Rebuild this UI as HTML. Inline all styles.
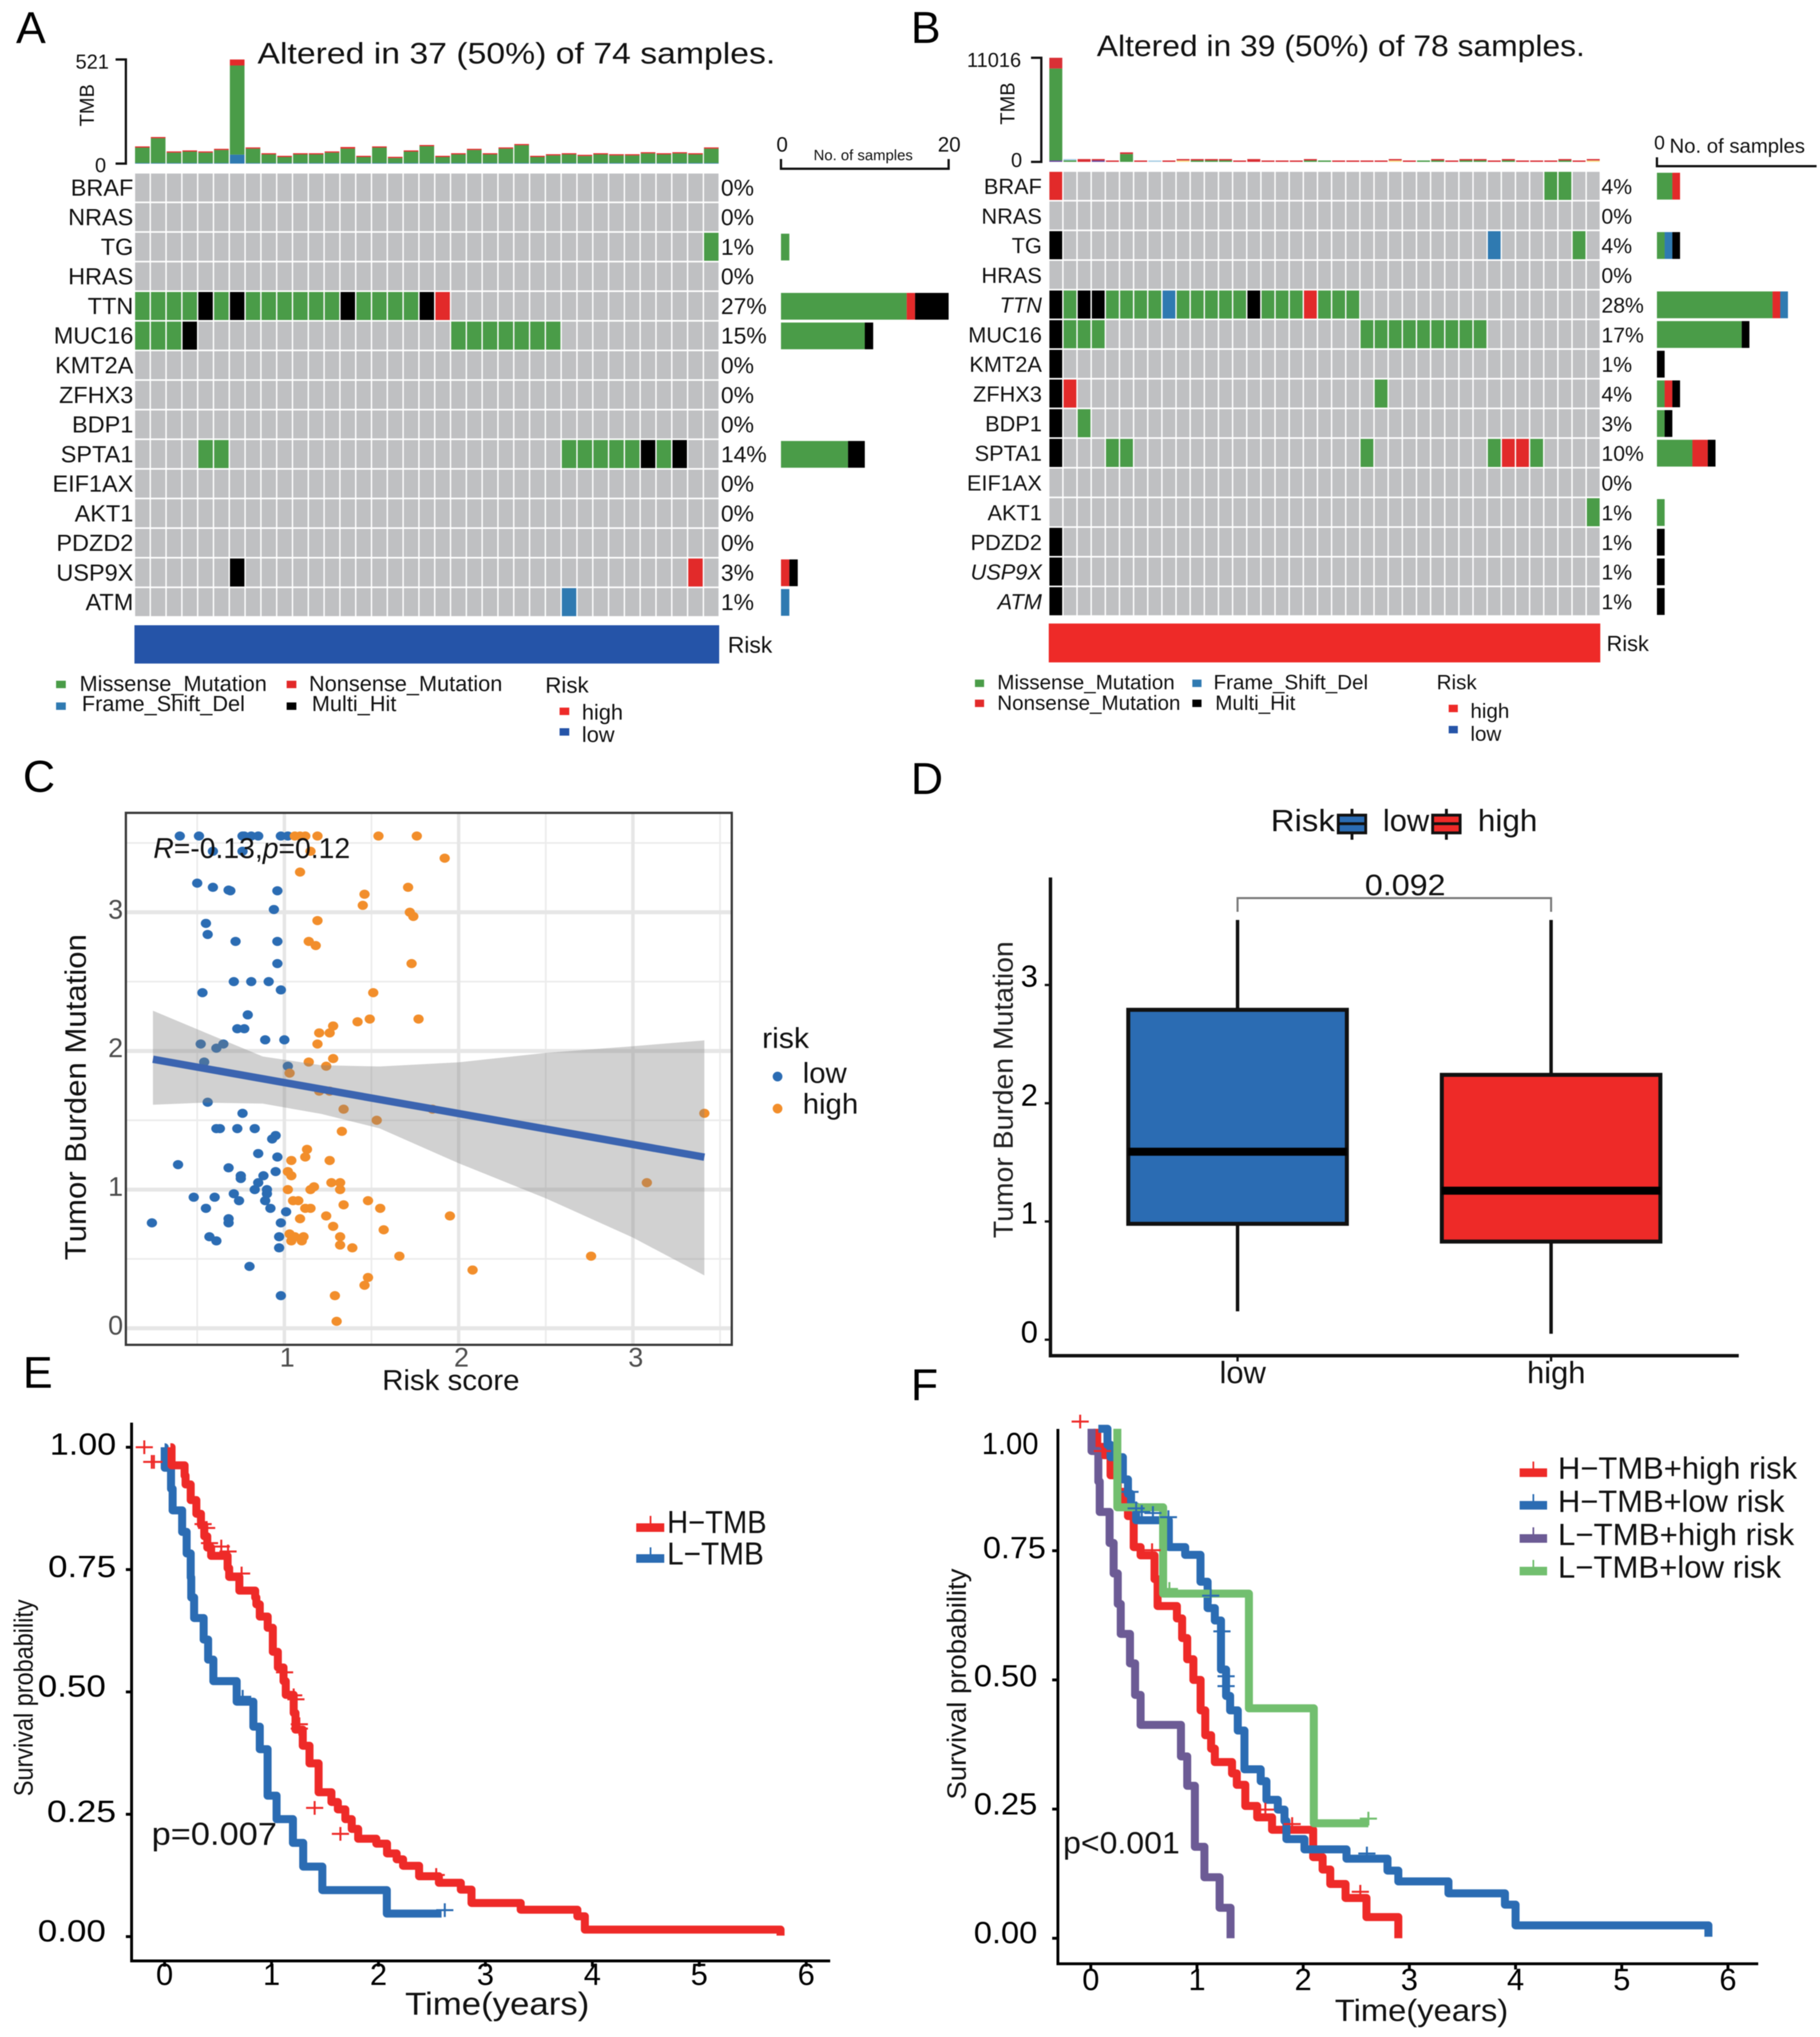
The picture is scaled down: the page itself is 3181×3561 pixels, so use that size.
<!DOCTYPE html>
<html lang="en">
<head>
<meta charset="utf-8">
<title>Oncoplots, TMB correlation and survival panels</title>
<style>
html,body{margin:0;padding:0;background:#fff;}
svg{display:block;filter:blur(0.8px);}
text{font-family:"Liberation Sans",Arial,sans-serif;fill:#111;}
.ital{font-style:italic;}
.letter{font-size:78px;fill:#000;}
.leg{font-size:38px;}
.legb{font-size:36px;}
.tick{font-size:54px;fill:#000;}
.tc{font-size:47px;fill:#4d4d4d;}
</style>
</head>
<body>
<svg id="fig" xmlns="http://www.w3.org/2000/svg" width="3181" height="3561" viewBox="0 0 3181 3561">
<rect x="0" y="0" width="3181" height="3561" fill="#fff"/>

<!-- panel letters -->
<text class="letter" x="28" y="75">A</text>
<text class="letter" x="1592" y="75">B</text>
<text class="letter" x="40" y="1384">C</text>
<text class="letter" x="1592" y="1388">D</text>
<text class="letter" x="40" y="2426">E</text>
<text class="letter" x="1592" y="2448">F</text>

<!-- panel A static text -->
<text x="450" y="111" font-size="52" textLength="905" lengthAdjust="spacingAndGlyphs">Altered in 37 (50%) of 74 samples.</text>
<text x="132" y="120" font-size="35">521</text>
<text x="166" y="301" font-size="35">0</text>
<text transform="translate(164,184) rotate(-90)" text-anchor="middle" font-size="35">TMB</text>
<text x="1357" y="265" font-size="36">0</text>
<text x="1639" y="265" font-size="36">20</text>
<text x="1422" y="280" font-size="26">No. of samples</text>
<text x="1272" y="1141" font-size="40">Risk</text>
<rect x="98" y="1190" width="17" height="13" fill="#4a9c48"/>
<text class="leg" x="139" y="1208">Missense_Mutation</text>
<rect x="98" y="1228" width="17" height="13" fill="#2f7ab1"/>
<text class="leg" x="143" y="1243">Frame_Shift_Del</text>
<rect x="501" y="1190" width="17" height="13" fill="#e22a2a"/>
<text class="leg" x="540" y="1208">Nonsense_Mutation</text>
<rect x="501" y="1228" width="17" height="13" fill="#000"/>
<text class="leg" x="545" y="1243">Multi_Hit</text>
<text x="953" y="1211" font-size="39">Risk</text>
<rect x="978" y="1237" width="17" height="13" fill="#ee2a28"/>
<text class="leg" x="1017" y="1258">high</text>
<rect x="978" y="1273" width="17" height="13" fill="#2554a8"/>
<text class="leg" x="1017" y="1297">low</text>

<!-- panel B static text -->
<text x="1917" y="98" font-size="52" textLength="853" lengthAdjust="spacingAndGlyphs">Altered in 39 (50%) of 78 samples.</text>
<text x="1690" y="117" font-size="35">11016</text>
<text x="1767" y="292" font-size="35">0</text>
<text transform="translate(1773,181) rotate(-90)" text-anchor="middle" font-size="35">TMB</text>
<text x="2891" y="261" font-size="34">0</text>
<text x="2918" y="267" font-size="35.5">No. of samples</text>
<text x="2808" y="1138" font-size="38">Risk</text>
<rect x="1704" y="1188" width="16" height="13" fill="#4a9c48"/>
<text class="legb" x="1743" y="1205">Missense_Mutation</text>
<rect x="1704" y="1223" width="16" height="13" fill="#e22a2a"/>
<text class="legb" x="1743" y="1241">Nonsense_Mutation</text>
<rect x="2084" y="1188" width="16" height="13" fill="#2f7ab1"/>
<text class="legb" x="2121" y="1205">Frame_Shift_Del</text>
<rect x="2084" y="1223" width="16" height="13" fill="#000"/>
<text class="legb" x="2124" y="1241">Multi_Hit</text>
<text x="2511" y="1205" font-size="36">Risk</text>
<rect x="2532" y="1232" width="16" height="13" fill="#ee2a28"/>
<text x="2570" y="1255" font-size="36">high</text>
<rect x="2532" y="1269" width="16" height="13" fill="#2554a8"/>
<text x="2570" y="1295" font-size="36">low</text>

<!-- panel C static text -->
<text transform="translate(150,1918) rotate(-90)" text-anchor="middle" font-size="52" textLength="570" lengthAdjust="spacingAndGlyphs">Tumor Burden Mutation</text>
<text x="668" y="2430" font-size="50" textLength="240" lengthAdjust="spacingAndGlyphs">Risk score</text>
<text x="1332" y="1832" font-size="50" textLength="82" lengthAdjust="spacingAndGlyphs">risk</text>
<text x="1403" y="1893" font-size="50" textLength="77" lengthAdjust="spacingAndGlyphs">low</text>
<text x="1403" y="1947" font-size="50" textLength="97" lengthAdjust="spacingAndGlyphs">high</text>
<circle cx="1359" cy="1882" r="8.5" fill="#2b6cb3"/>
<circle cx="1359" cy="1938" r="8.5" fill="#f28e2b"/>

<!-- panel D static text -->
<text transform="translate(1770,1905) rotate(-90)" text-anchor="middle" font-size="48" textLength="519" lengthAdjust="spacingAndGlyphs" style="fill:#222">Tumor Burden Mutation</text>
<text x="2456" y="1565" text-anchor="middle" font-size="52" textLength="141" lengthAdjust="spacingAndGlyphs">0.092</text>
<text x="2172" y="2418" text-anchor="middle" font-size="54">low</text>
<text x="2720" y="2418" text-anchor="middle" font-size="54">high</text>
<text x="2221" y="1453" font-size="54" textLength="112" lengthAdjust="spacingAndGlyphs">Risk</text>
<line x1="2363" x2="2363" y1="1414" y2="1468" stroke="#111" stroke-width="5"/>
<rect x="2339" y="1425" width="48" height="31" fill="#2b6cb3" stroke="#111" stroke-width="5"/>
<line x1="2339" x2="2387" y1="1440" y2="1440" stroke="#111" stroke-width="5"/>
<text x="2417" y="1453" font-size="54" textLength="81" lengthAdjust="spacingAndGlyphs">low</text>
<line x1="2528" x2="2528" y1="1414" y2="1468" stroke="#111" stroke-width="5"/>
<rect x="2504" y="1425" width="48" height="31" fill="#ee2a28" stroke="#111" stroke-width="5"/>
<line x1="2504" x2="2552" y1="1440" y2="1440" stroke="#111" stroke-width="5"/>
<text x="2583" y="1453" font-size="54" textLength="104" lengthAdjust="spacingAndGlyphs">high</text>
<text class="tick" x="1784" y="1725">3</text>
<text class="tick" x="1784" y="1933">2</text>
<text class="tick" x="1784" y="2139">1</text>
<text class="tick" x="1784" y="2347">0</text>

<!-- panel E static text -->
<text transform="translate(57,2968) rotate(-90)" text-anchor="middle" font-size="46" textLength="344" lengthAdjust="spacingAndGlyphs">Survival probability</text>
<text x="708" y="3522" font-size="56" textLength="322" lengthAdjust="spacingAndGlyphs">Time(years)</text>
<text x="265" y="3225" font-size="56" textLength="219" lengthAdjust="spacingAndGlyphs">p=0.007</text>
<text class="tick" x="87" y="2543" textLength="116" lengthAdjust="spacingAndGlyphs">1.00</text>
<text class="tick" x="84" y="2757" textLength="119" lengthAdjust="spacingAndGlyphs">0.75</text>
<text class="tick" x="66" y="2966" textLength="119" lengthAdjust="spacingAndGlyphs">0.50</text>
<text class="tick" x="82" y="3185" textLength="121" lengthAdjust="spacingAndGlyphs">0.25</text>
<text class="tick" x="66" y="3394" textLength="119" lengthAdjust="spacingAndGlyphs">0.00</text>
<rect x="1112" y="2663" width="49" height="15" fill="#ee2a28"/>
<line x1="1137" x2="1137" y1="2650" y2="2665" stroke="#ee2a28" stroke-width="3"/>
<text x="1166" y="2680" font-size="56" textLength="174" lengthAdjust="spacingAndGlyphs">H−TMB</text>
<rect x="1112" y="2717" width="49" height="15" fill="#2b6cb3"/>
<line x1="1137" x2="1137" y1="2705" y2="2720" stroke="#2b6cb3" stroke-width="3"/>
<text x="1166" y="2735" font-size="56" textLength="169" lengthAdjust="spacingAndGlyphs">L−TMB</text>

<!-- panel F static text -->
<text transform="translate(1688,2944) rotate(-90)" text-anchor="middle" font-size="46" textLength="404" lengthAdjust="spacingAndGlyphs">Survival probability</text>
<text x="2333" y="3533" font-size="54" textLength="303" lengthAdjust="spacingAndGlyphs">Time(years)</text>
<text x="1858" y="3240" font-size="54" textLength="204" lengthAdjust="spacingAndGlyphs">p&lt;0.001</text>
<text class="tick" x="1716" y="2542" textLength="99" lengthAdjust="spacingAndGlyphs">1.00</text>
<text class="tick" x="1718" y="2724" textLength="110" lengthAdjust="spacingAndGlyphs">0.75</text>
<text class="tick" x="1702" y="2948" textLength="111" lengthAdjust="spacingAndGlyphs">0.50</text>
<text class="tick" x="1702" y="3172" textLength="111" lengthAdjust="spacingAndGlyphs">0.25</text>
<text class="tick" x="1702" y="3397" textLength="111" lengthAdjust="spacingAndGlyphs">0.00</text>
<rect x="2656" y="2567" width="48" height="15" fill="#ee2a28"/>
<line x1="2680" x2="2680" y1="2555" y2="2570" stroke="#ee2a28" stroke-width="3"/>
<text x="2723" y="2585" font-size="54" textLength="418" lengthAdjust="spacingAndGlyphs">H−TMB+high risk</text>
<rect x="2656" y="2624" width="48" height="15" fill="#2b6cb3"/>
<line x1="2680" x2="2680" y1="2612" y2="2627" stroke="#2b6cb3" stroke-width="3"/>
<text x="2723" y="2643" font-size="54" textLength="396" lengthAdjust="spacingAndGlyphs">H−TMB+low risk</text>
<rect x="2656" y="2682" width="48" height="15" fill="#6c5b95"/>
<line x1="2680" x2="2680" y1="2670" y2="2685" stroke="#6c5b95" stroke-width="3"/>
<text x="2723" y="2701" font-size="54" textLength="413" lengthAdjust="spacingAndGlyphs">L−TMB+high risk</text>
<rect x="2656" y="2739" width="48" height="15" fill="#72bf6f"/>
<line x1="2680" x2="2680" y1="2727" y2="2742" stroke="#72bf6f" stroke-width="3"/>
<text x="2723" y="2758" font-size="54" textLength="390" lengthAdjust="spacingAndGlyphs">L−TMB+low risk</text>
</svg>

<script>
/* ---------- oncoplot data ---------- */
const genes = ['BRAF','NRAS','TG','HRAS','TTN','MUC16','KMT2A','ZFHX3','BDP1','SPTA1','EIF1AX','AKT1','PDZD2','USP9X','ATM'];
const pctA = [0,0,1,0,27,15,0,0,0,14,0,0,0,3,1];
const pctB = [4,0,4,0,28,17,1,4,3,10,0,1,1,1,1];
const italicB = ['TTN','USP9X','ATM'];

const missenseA = {TG:[36],TTN:[0,1,2,3,5,7,8,9,10,11,12,14,15,16,17],MUC16:[0,1,2,20,21,22,23,24,25,26],SPTA1:[4,5,27,28,29,30,31,33]};
const nonsenseA = {TTN:[19],USP9X:[35]};
const frameShiftA = {ATM:[27]};
const multiHitA = {TTN:[4,6,13,18],MUC16:[3],SPTA1:[32,34],USP9X:[6]};

const missenseB = {BRAF:[35,36],TG:[37],TTN:[1,4,5,6,7,9,10,11,12,13,15,16,17,19,20,21],MUC16:[1,2,3,22,23,24,25,26,27,28,29,30],ZFHX3:[23],BDP1:[2],SPTA1:[4,5,22,31,34],AKT1:[38]};
const nonsenseB = {BRAF:[0],TTN:[18],ZFHX3:[1],SPTA1:[32,33]};
const frameShiftB = {TG:[31],TTN:[8]};
const multiHitB = {TG:[0],TTN:[0,2,3,14],MUC16:[0],KMT2A:[0],ZFHX3:[0],BDP1:[0],SPTA1:[0],PDZD2:[0],USP9X:[0],ATM:[0]};

const sideMissenseA = [0,0,1,0,15,10,0,0,0,8,0,0,0,0,0];
const sideNonsenseA = [0,0,0,0,1,0,0,0,0,0,0,0,0,1,0];
const sideFrameShiftA = [0,0,0,0,0,0,0,0,0,0,0,0,0,0,1];
const sideMultiHitA = [0,0,0,0,4,1,0,0,0,2,0,0,0,1,0];

const sideMissenseB = [2,0,1,0,15,11,0,1,1,4.6,0,1,0,0,0];
const sideNonsenseB = [1,0,0,0,1,0,0,1,0,2,0,0,0,0,0];
const sideFrameShiftB = [0,0,1,0,1,0,0,0,0,0,0,0,0,0,0];
const sideMultiHitB = [0,0,1,0,0,1,1,1,1,1,0,0,1,1,1];

const tmbMissenseA = [77,124,52,57,52,65,446,72,43,30,43,43,52,72,30,77,25,57,84,30,43,65,43,72,89,30,38,43,35,43,38,38,48,43,48,43,72];
const tmbNonsenseA = [6,6,6,6,6,6,30,6,6,6,6,6,6,8,6,6,6,6,6,6,6,6,6,6,6,6,6,6,6,6,6,6,6,6,6,6,6];
const tmbFrameShiftA = [3,3,3,3,3,3,45,3,3,3,3,3,3,3,3,3,3,3,3,3,3,3,3,3,3,3,3,3,3,3,3,3,3,3,3,3,3];

const tmbPurpleB = [150,0,0,150,0,0,0,0,0,0,0,0,0,0,0,0,0,0,0,0,0,0,0,0,0,0,0,0,0,0,0,0,0,0,0,0,0,0,0];
const tmbYellowB = [0,0,0,0,0,0,0,0,0,150,0,0,0,0,0,0,0,0,0,0,0,0,0,0,150,0,0,0,0,0,0,0,0,0,0,0,0,0,150];
const tmbMissenseB = [9730,150,0,0,0,830,0,0,0,0,150,150,150,0,0,0,0,0,150,150,0,0,0,0,0,0,150,150,0,150,150,0,150,0,0,0,150,0,0];
const tmbNonsenseB = [1136,0,300,150,150,180,150,0,150,150,150,150,150,150,300,150,150,150,150,0,150,150,150,150,150,150,0,150,150,150,150,150,150,150,150,150,150,150,150];
const tmbLightBlueB = [0,150,0,0,0,0,0,150,0,0,0,0,0,0,0,0,0,0,0,0,0,0,0,0,0,0,0,0,0,0,0,0,0,0,0,0,0,0,0];

/* ---------- scatter data (risk score, TMB) ---------- */
const lowRisk = [.40,.51,.76,.77,.81,.85,.98,1.02,.59,.76,.50,.59,.68,.69,.96,.94,.55,.56,.72,.96,.96,.71,.81,.91,.98,.53,.79,.73,.77,.89,1.0,.52,.61,.65,.54,1.02,.56,.76,.61,.63,.73,.83,.93,.95,.85,.96,.39,.68,.95,.88,.75,.75,.85,.83,.90,.90,.71,.48,.60,.74,.89,.92,.55,1.01,.68,.68,.98,.24,.57,.61,.97,.97,.80,.98];
const lowTmb = [3.55,3.55,3.55,3.55,3.55,3.55,3.55,3.55,3.44,3.44,3.21,3.18,3.16,3.155,3.155,3.02,2.92,2.84,2.79,2.79,2.63,2.50,2.50,2.50,2.44,2.42,2.26,2.16,2.16,2.08,2.08,2.05,2.02,2.05,1.92,1.89,1.63,1.55,1.44,1.44,1.44,1.44,1.365,1.39,1.26,1.235,1.18,1.157,1.13,1.10,1.10,1.08,1.05,1.0,1.0,.97,.97,.945,.945,.92,.92,.865,.865,.84,.79,.76,.76,.76,.66,.63,.66,.58,.446,.235];
const highRisk = [1.06,1.09,1.12,1.19,1.54,1.76,1.15,1.92,1.09,1.71,1.46,1.45,1.72,1.74,1.19,1.14,1.18,1.73,1.51,1.49,1.77,1.42,1.28,1.20,1.26,1.19,1.28,1.14,1.24,1.03,1.20,1.26,1.34,1.85,1.53,3.41,1.33,1.13,1.12,1.26,1.04,1.02,1.04,3.08,1.27,1.32,1.17,1.15,1.32,1.02,1.05,1.08,1.48,1.34,1.55,1.12,1.15,1.24,1.95,1.09,1.28,1.57,1.03,1.32,1.06,1.11,1.04,1.10,1.32,1.39,1.66,2.76,2.08,1.48,1.46,1.29,1.30];
const highTmb = [3.55,3.55,3.55,3.55,3.55,3.55,3.44,3.39,3.29,3.18,3.13,3.05,3.0,2.97,2.94,2.79,2.76,2.63,2.42,2.23,2.23,2.21,2.18,2.13,2.13,2.05,1.945,1.92,1.89,1.84,1.71,1.71,1.58,1.58,1.50,1.55,1.42,1.29,1.235,1.21,1.21,1.13,1.10,1.05,1.05,1.05,1.02,1.0,1.0,1.0,.92,.92,.92,.89,.865,.865,.865,.81,.81,.79,.735,.71,.68,.66,.66,.66,.63,.63,.60,.58,.52,.52,.42,.366,.31,.235,.05];
const fitRisk = [0.246,3.41];
const fitTmb = [1.94,1.234];
const ribbonRisk = [.246,.541,.876,1.211,1.546,2.0,2.5,3.0,3.41];
const ribbonUpper = [2.29,2.135,1.96,1.897,1.888,1.918,1.986,2.034,2.076];
const ribbonLower = [1.612,1.627,1.62,1.546,1.442,1.19,.937,.654,.381];
const scatterXTicks = [1,2,3];
const scatterYTicks = [0,1,2,3];
const scatterXMinor = [0.5,1.5,2.5,3.5];
const scatterYMinor = [0.5,1.5,2.5,3.5];

/* ---------- box plot data ---------- */
const boxGroups = ['low','high'];
const boxQ1 = [.98,.83];
const boxMedian = [1.59,1.26];
const boxQ3 = [2.79,2.24];
const boxWhiskerLow = [.24,.05];
const boxWhiskerHigh = [3.55,3.55];
const boxYTicks = [0,1,2,3];

/* ---------- survival data ---------- */
const kmXTicks = [0,1,2,3,4,5,6];
const kmEYTicks = [0,.25,.5,.75,1];
const kmFYTicks = [0,.25,.5,.75];

const eHighT = [.054,.065,.187,.196,.244,.297,.34,.371,.399,.435,.589,.604,.699,.847,.858,.89,.964,1.012,1.059,1.112,1.133,1.207,1.224,1.292,1.355,1.44,1.56,1.62,1.69,1.75,1.81,1.98,2.08,2.17,2.23,2.38,2.565,2.77,2.87,3.33,3.86,3.93,5.76];
const eHighS = [1,.963,.942,.924,.892,.864,.841,.818,.795,.778,.753,.735,.707,.693,.679,.654,.631,.582,.55,.522,.494,.457,.423,.39,.354,.295,.275,.26,.24,.22,.2,.19,.17,.158,.1447,.1233,.11,.096,.0687,.055,.0415,.0143,.002];
const eHighEnd = 5.76;
const eLowT = [0,.001,.06,.075,.164,.206,.244,.249,.276,.365,.407,.456,.674,.83,.89,.963,1.047,1.2,1.296,1.475,2.078];
const eLowS = [1,.958,.915,.871,.827,.783,.734,.693,.651,.607,.566,.522,.48,.429,.383,.288,.24,.1915,.143,.095,.047];
const eLowEnd = 2.59;
const eHighCensorT = [-.19,-.12,-.10,.36,.393,.42,.53,.593,.72,1.122,1.207,1.228,1.26,1.26,1.403,1.644,2.54];
const eHighCensorS = [1,.97,.97,.843,.835,.804,.797,.787,.742,.54,.493,.485,.434,.425,.263,.21,.126];
const eLowCensorT = [.73,2.62];
const eLowCensorS = [.49,.054];

const fHHT = [.061,.061,.119,.186,.254,.311,.35,.404,.469,.60,.629,.811,.86,.908,.966,1.034,1.078,1.133,1.168,1.33,1.375,1.455,1.567,1.707,2.094,2.183,2.255,2.399,2.596,2.896];
const fHHS = [.986,.951,.935,.896,.864,.84,.817,.757,.741,.695,.643,.619,.581,.54,.50,.441,.393,.367,.341,.319,.297,.256,.234,.21,.157,.133,.105,.078,.041,0];
const fHHEnd = 2.896;
const fHLT = [.071,.157,.186,.302,.35,.379,.427,.735,.889,1.033,1.10,1.168,1.226,1.274,1.312,1.384,1.447,1.6,1.654,1.761,1.824,1.842,2.012,2.408,2.794,2.896,3.368,3.9,4.0,5.816];
const fHLS = [.986,.955,.931,.888,.86,.836,.809,.757,.742,.69,.639,.615,.52,.469,.441,.402,.327,.304,.268,.249,.227,.192,.172,.154,.131,.11,.087,.065,.025,.003];
const fHLEnd = 5.816;
const fLHT = [.007,.007,.071,.084,.177,.215,.254,.282,.369,.417,.469,.849,.908,.98,1.07,1.213,1.316];
const fLHS = [.986,.943,.884,.825,.765,.706,.647,.589,.532,.471,.413,.352,.295,.177,.118,.059,0];
const fLHEnd = 1.316;
const fLLT = [.25,.25,.681,1.489,2.10];
const fLLS = [.986,.834,.667,.445,.2226];
const fLLEnd = 2.614;
const fHHCensorT = [-.1,.109,.577,1.644,1.896,2.538];
const fHHCensorS = [1,.943,.751,.249,.221,.09];
const fHLCensorT = [.369,.427,.48,.585,.731,1.129,1.235,1.274,1.274,2.6];
const fHLCensorS = [.864,.832,.825,.823,.815,.663,.594,.507,.488,.164];
const fLLCensorT = [.74,2.614];
const fLLCensorS = [.676,.2315];

/* ---------- helpers ---------- */
const NS = 'http://www.w3.org/2000/svg';
const svg = document.getElementById('fig');
const C = {M:'#4a9c48',N:'#e22a2a',F:'#2f7ab1',X:'#000000',bg:'#bfc0c2'};
function mk(tag, attrs, parent){
  const el = document.createElementNS(NS, tag);
  for (const k in attrs) el.setAttribute(k, attrs[k]);
  (parent || svg).appendChild(el);
  return el;
}
function lin(d0,d1,r0,r1){ return v => r0 + (v-d0)*(r1-r0)/(d1-d0); }

/* ---------- oncoplot ---------- */
function drawOnco(p){
  const colW = (p.right-p.left)/p.ncol;
  const rowH = (p.bottom-p.top)/genes.length;
  const colX = i => p.left + i*colW;
  const rowY = r => p.top + r*rowH;
  const tmbY = lin(0,p.tmbMax,p.tmbBase,p.tmbTop);

  /* TMB stacked bars */
  for (let i=0;i<p.ncol;i++){
    let cum = 0;
    for (const part of p.tmbParts){
      const val = part[0][i];
      if (!val) continue;
      const seg = mk('rect',{x:colX(i)+1,y:tmbY(cum+val),width:colW-2,height:tmbY(cum)-tmbY(cum+val),fill:part[1]});
      
      
      cum += val;
    }
  }
  const tmbAxis = mk('path',{d:`M${p.tmbAxisX-18} ${p.tmbTop} H${p.tmbAxisX} V${p.tmbBase} H${p.tmbAxisX-18}`,fill:'none',stroke:'#111',"stroke-width":4});
  
  

  /* heatmap */
  const lookup = (tab,g) => tab[g] || [];
  genes.forEach((g,r)=>{
    for (let i=0;i<p.ncol;i++){
      const cell = mk('rect',{x:colX(i)+1.2,y:rowY(r)+1.4,width:colW-2.4,height:rowH-2.8,fill:C.bg});
      
      
    }
    [[p.M,'M'],[p.N,'N'],[p.F,'F'],[p.X,'X']].forEach(t=>{
      lookup(t[0],g).forEach(i=>{
        const hit = mk('rect',{x:colX(i)+1.2,y:rowY(r)+1.4,width:colW-2.4,height:rowH-2.8,fill:C[t[1]]});
        
        
      });
    });
    const lab = mk('text',{x:p.labelX,y:rowY(r)+rowH/2+14,'text-anchor':'end','font-size':p.labelSize,'class':(p.italic.indexOf(g)>=0?'ital':'')});
    lab.textContent = g;
    
    
    const pc = mk('text',{x:p.pctX,y:rowY(r)+rowH/2+14,'font-size':p.pctSize});
    pc.textContent = p.pct[r]+'%';
    
    
    /* side bars */
    let sum = 0;
    [[p.sM,C.M,'missense'],[p.sN,C.N,'nonsense'],[p.sF,C.F,'frameshift'],[p.sX,C.X,'multihit']].forEach(s=>{
      const v = s[0][r];
      if (!v) return;
      const bar = mk('rect',{x:p.sideX+sum*p.sideScale,y:rowY(r)+3,width:v*p.sideScale,height:rowH-5,fill:s[1]});
      
      
      sum += v;
    });
  });

  /* risk strip */
  const strip = mk('rect',{x:p.left,y:p.riskTop,width:p.right-p.left,height:p.riskBottom-p.riskTop,fill:p.riskColor});
  
  

  /* side axis */
  const sideAxis = mk('path',{d:p.sideAxis,fill:'none',stroke:'#111',"stroke-width":4});
  
  
}
drawOnco({id:'a',ncol:37,left:235,right:1257,top:302,bottom:1078.5,
  M:missenseA,N:nonsenseA,F:frameShiftA,X:multiHitA,pct:pctA,pctX:1260,pctSize:40,labelX:233,labelSize:41,italic:[],
  sM:sideMissenseA,sN:sideNonsenseA,sF:sideFrameShiftA,sX:sideMultiHitA,sideX:1365,sideScale:14.65,
  tmbParts:[[tmbFrameShiftA,C.F,'frameshift'],[tmbMissenseA,C.M,'missense'],[tmbNonsenseA,C.N,'nonsense']],
  tmbMax:521,tmbBase:286,tmbTop:104,tmbAxisX:220,
  riskTop:1093,riskBottom:1160,riskColor:'#2554a8',sideAxis:'M1365 278 V295 H1658 V278'});
drawOnco({id:'b',ncol:39,left:1833,right:2797,top:299,bottom:1077,
  M:missenseB,N:nonsenseB,F:frameShiftB,X:multiHitB,pct:pctB,pctX:2799,pctSize:37,labelX:1821,labelSize:38,italic:italicB,
  sM:sideMissenseB,sN:sideNonsenseB,sF:sideFrameShiftB,sX:sideMultiHitB,sideX:2896,sideScale:13.47,
  tmbParts:[[tmbPurpleB,'#6a4a9c','other'],[tmbYellowB,'#f6e08e','splice'],[tmbMissenseB,C.M,'missense'],[tmbNonsenseB,'#d93036','nonsense'],[tmbLightBlueB,'#a6cde3','frameshift-ins']],
  tmbMax:11016,tmbBase:283,tmbTop:101,tmbAxisX:1820,
  riskTop:1090,riskBottom:1158,riskColor:'#ee2a28',sideAxis:'M2896 275 V290.5 H3175'});

/* ---------- panel C scatter ---------- */
(function(){
  const x = lin(1,2,497,801.6), y = lin(0,1,2322,2079.6);
  const L=220,R=1279,T=1421,B=2351;
  scatterYMinor.forEach(v=>{
    const g = mk('line',{x1:L,x2:R,y1:y(v),y2:y(v),stroke:'#ececec','stroke-width':3});
    
    
  });
  scatterXMinor.forEach(v=>{
    const g = mk('line',{x1:x(v),x2:x(v),y1:T,y2:B,stroke:'#ececec','stroke-width':3});
    
    
  });
  scatterYTicks.forEach(v=>{
    const g = mk('line',{x1:L,x2:R,y1:y(v),y2:y(v),stroke:'#e6e6e6','stroke-width':7});
    
    
    const lab = mk('text',{x:189,y:y(v)+11,'class':'tc'});
    lab.textContent = v;
    
    
  });
  scatterXTicks.forEach(v=>{
    const g = mk('line',{x1:x(v),x2:x(v),y1:T,y2:B,stroke:'#e6e6e6','stroke-width':6});
    
    
  });
  lowRisk.forEach((v,i)=>{
    const d = mk('ellipse',{cx:x(v),cy:y(lowTmb[i]),rx:9,ry:8,fill:'#2b6cb3'});
    
    
  });
  highRisk.forEach((v,i)=>{
    const d = mk('ellipse',{cx:x(v),cy:y(highTmb[i]),rx:9,ry:8,fill:'#f28e2b'});
    
    
  });
  let d = '';
  ribbonRisk.forEach((v,i)=>{ d += (i?'L':'M')+x(v)+' '+y(ribbonUpper[i])+' '; });
  for (let i=ribbonRisk.length-1;i>=0;i--) d += 'L'+x(ribbonRisk[i])+' '+y(ribbonLower[i])+' ';
  const rib = mk('path',{d:d+'Z',fill:'#808080','fill-opacity':.36});
  
  
  const fit = mk('line',{x1:x(fitRisk[0]),y1:y(fitTmb[0]),x2:x(fitRisk[1]),y2:y(fitTmb[1]),stroke:'#3b64b0','stroke-width':13});
  
  
  const box = mk('rect',{x:L,y:T,width:R-L,height:B-T,fill:'none',stroke:'#3a3a3a','stroke-width':4});
  
  
  scatterXTicks.forEach(v=>{
    const lab = mk('text',{x:x(v)+5,y:2389,'text-anchor':'middle','class':'tc'});
    lab.textContent = v;
    
    
  });
  const stat = mk('text',{x:268,y:1500,'font-size':50,textLength:344,lengthAdjust:'spacingAndGlyphs'});
  stat.innerHTML = '<tspan font-style="italic">R</tspan>=-0.13,<tspan font-style="italic">p</tspan>=0.12';
  
  
})();

/* ---------- panel D box plot ---------- */
(function(){
  const y = lin(0,1,2342,2135.3);
  const cx = [2163,2711], hw = 191;
  const ax = mk('path',{d:'M1836 1534 V2370 H3039',fill:'none',stroke:'#111','stroke-width':6});
  
  
  boxYTicks.forEach(v=>{
    const t = mk('line',{x1:1826,x2:1836,y1:y(v),y2:y(v),stroke:'#111','stroke-width':4});
    
    
  });
  const fills = ['#2b6cb3','#ee2a28'];
  boxGroups.forEach((g,i)=>{
    const tk = mk('line',{x1:cx[i],x2:cx[i],y1:2370,y2:2380,stroke:'#111','stroke-width':4});
    
    
    const w = mk('line',{x1:cx[i],x2:cx[i],y1:y(boxWhiskerHigh[i]),y2:y(boxWhiskerLow[i]),stroke:'#111','stroke-width':6});
    
    
    const b = mk('rect',{x:cx[i]-hw,y:y(boxQ3[i]),width:hw*2,height:y(boxQ1[i])-y(boxQ3[i]),fill:fills[i],stroke:'#111','stroke-width':7});
    
    
    const m = mk('line',{x1:cx[i]-hw,x2:cx[i]+hw,y1:y(boxMedian[i]),y2:y(boxMedian[i]),stroke:'#000','stroke-width':14});
    
    
  });
  const br = mk('path',{d:`M${cx[0]} 1594 V1570 H${cx[1]} V1594`,fill:'none',stroke:'#777','stroke-width':3.5});
  
  
})();

/* ---------- survival ---------- */
function stepPath(t,s,end,x,y){
  let d = 'M'+x(t[0])+' '+y(s[0]);
  for (let i=1;i<t.length;i++) d += ' H'+x(t[i])+' V'+y(s[i]);
  return d+' H'+x(end);
}
function censorPath(t,s,x,y){
  let d='';
  t.forEach((v,i)=>{ const a=x(v),b=y(s[i]); d+=`M${a-15} ${b} H${a+15} M${a} ${b-12} V${b+12} `; });
  return d;
}
function kmAxes(id,x,y,yt,axX,axTop,axY,axR,lblY){
  const ax = mk('path',{d:`M${axX} ${axTop} V${axY} H${axR}`,fill:'none',stroke:'#000','stroke-width':5});
  
  
  yt.forEach(v=>{
    const t = mk('line',{x1:axX-10,x2:axX,y1:y(v),y2:y(v),stroke:'#000','stroke-width':5});
    
    
  });
  kmXTicks.forEach(v=>{
    const t = mk('line',{x1:x(v),x2:x(v),y1:axY,y2:axY+10,stroke:'#000','stroke-width':5});
    
    
    const lab = mk('text',{x:x(v),y:lblY,'text-anchor':'middle','class':'tick'});
    lab.textContent = v;
    
    
  });
}
(function(){
  const x = lin(0,1,287.7,474.6), y = lin(0,1,3385.5,2530);
  kmAxes('e',x,y,kmEYTicks,230,2487,3428,1451,3470);
  const lo = mk('path',{d:stepPath(eLowT,eLowS,eLowEnd,x,y),fill:'none',stroke:'#2b6cb3','stroke-width':14,'stroke-linejoin':'round'});
  
  
  const hi = mk('path',{d:stepPath(eHighT,eHighS,eHighEnd,x,y),fill:'none',stroke:'#ee2a28','stroke-width':14,'stroke-linejoin':'round'});
  
  
  const c1 = mk('path',{d:censorPath(eHighCensorT,eHighCensorS,x,y),fill:'none',stroke:'#ee2a28','stroke-width':3.5});
  
  
  const c2 = mk('path',{d:censorPath(eLowCensorT,eLowCensorS,x,y),fill:'none',stroke:'#2b6cb3','stroke-width':3.5});
  
  
})();
(function(){
  const x = lin(0,1,1906.5,2092.1), y = lin(0,1,3388.4,2485.1);
  kmAxes('f',x,y,kmFYTicks,1849,2498,3433,3073,3479);
  const a = mk('path',{d:stepPath(fHHT,fHHS,fHHEnd,x,y),fill:'none',stroke:'#ee2a28','stroke-width':14,'stroke-linejoin':'round'});
  
  
  const b = mk('path',{d:stepPath(fHLT,fHLS,fHLEnd,x,y),fill:'none',stroke:'#2b6cb3','stroke-width':14,'stroke-linejoin':'round'});
  
  
  const c = mk('path',{d:stepPath(fLHT,fLHS,fLHEnd,x,y),fill:'none',stroke:'#6c5b95','stroke-width':14,'stroke-linejoin':'round'});
  
  
  const e = mk('path',{d:stepPath(fLLT,fLLS,fLLEnd,x,y),fill:'none',stroke:'#72bf6f','stroke-width':14,'stroke-linejoin':'round'});
  
  
  const c1 = mk('path',{d:censorPath(fHHCensorT,fHHCensorS,x,y),fill:'none',stroke:'#ee2a28','stroke-width':3.5});
  
  
  const c2 = mk('path',{d:censorPath(fHLCensorT,fHLCensorS,x,y),fill:'none',stroke:'#2b6cb3','stroke-width':3.5});
  
  
  const c3 = mk('path',{d:censorPath(fLLCensorT,fLLCensorS,x,y),fill:'none',stroke:'#72bf6f','stroke-width':3.5});
  
  
})();
</script>
</body>
</html>
